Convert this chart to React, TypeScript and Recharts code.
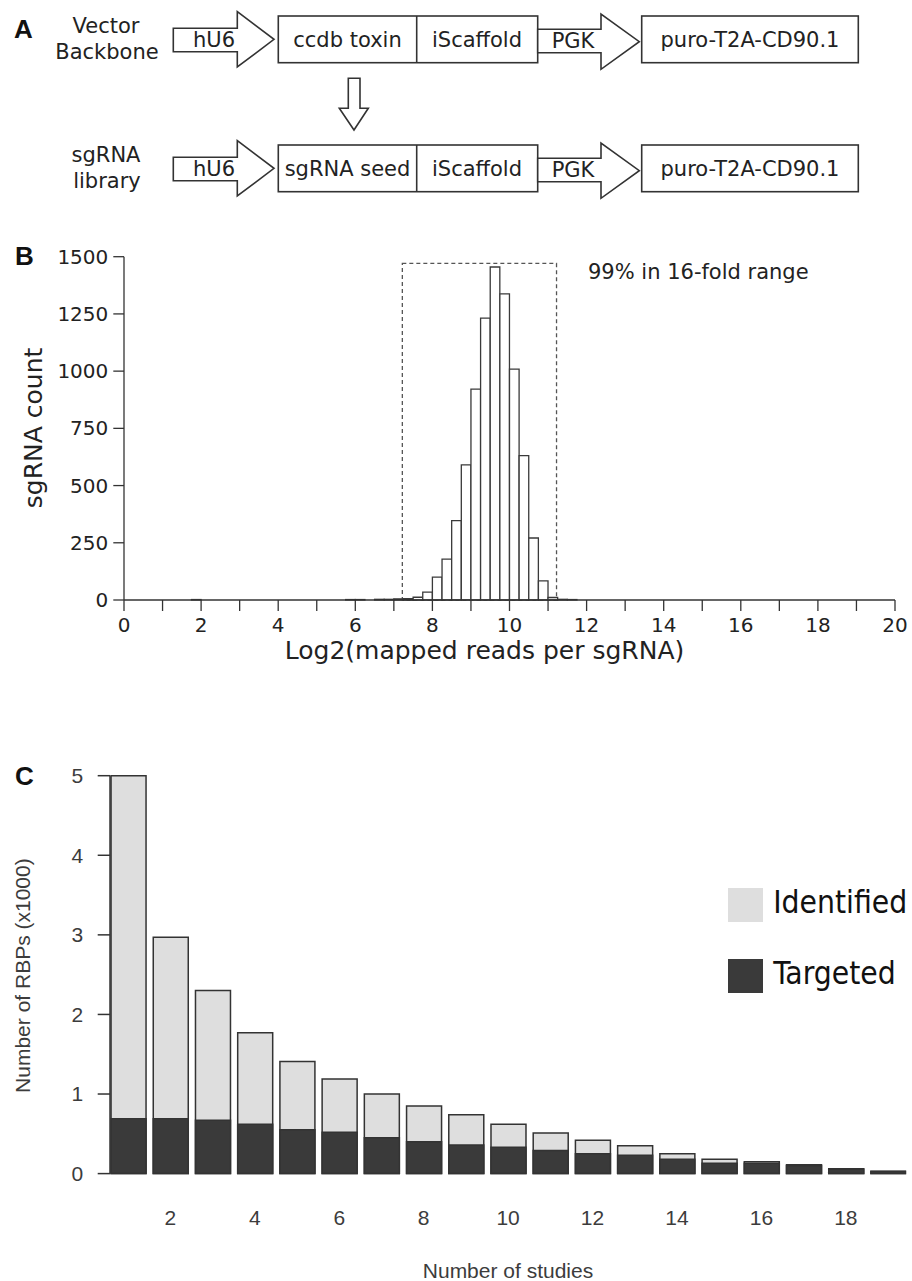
import React from "react";
import { Bar, ComposedChart, Label, Legend, ReferenceArea, XAxis, YAxis } from "recharts";

// ---- panel B: histogram of log2 reads per sgRNA (bins of 0.25) ----
const HIST_BIN_START = [
  1.75, 5.75, 6.0, 6.5, 6.75, 7.0, 7.25, 7.5, 7.75, 8.0, 8.25, 8.5, 8.75, 9.0, 9.25, 9.5,
  9.75, 10.0, 10.25, 10.5, 10.75, 11.0, 11.25, 11.5,
];
const HIST_COUNT = [
  2, 2, 2, 3, 3, 5, 6, 12, 34, 100, 179, 347, 590, 921, 1232, 1455, 1338, 1009, 631, 271, 84,
  11, 3, 2,
];
const HIST_BIN_WIDTH = 0.25;
const HIST_X_TICKS = [0, 1, 2, 3, 4, 5, 6, 7, 8, 9, 10, 11, 12, 13, 14, 15, 16, 17, 18, 19, 20];
const HIST_Y_TICKS = [0, 250, 500, 750, 1000, 1250, 1500];
const RANGE_X1 = 7.22;
const RANGE_X2 = 11.22;
const RANGE_TOP = 1471;

// ---- panel C: RBPs per number of studies (x1000) ----
const STUDIES = [1, 2, 3, 4, 5, 6, 7, 8, 9, 10, 11, 12, 13, 14, 15, 16, 17, 18, 19];
const IDENTIFIED = [
  5.0, 2.97, 2.3, 1.77, 1.41, 1.19, 1.0, 0.85, 0.74, 0.62, 0.51, 0.42, 0.35, 0.25, 0.18, 0.15,
  0.11, 0.06, 0.03,
];
const TARGETED = [
  0.69, 0.69, 0.67, 0.62, 0.55, 0.52, 0.45, 0.4, 0.36, 0.33, 0.29, 0.25, 0.23, 0.18, 0.13, 0.13,
  0.1, 0.055, 0.025,
];
const RBP_X_TICKS = [2, 4, 6, 8, 10, 12, 14, 16, 18];
const RBP_Y_TICKS = [0, 1, 2, 3, 4, 5];

const INK = "#333";
const LIGHT = "#dedede";
const DARK = "#3a3a3a";
const VERDANA = "'DejaVu Sans', Verdana, sans-serif";
const ARIAL = "'Liberation Sans', Arial, sans-serif";

const histData = HIST_BIN_START.map((start, i) => ({
  mid: start + HIST_BIN_WIDTH / 2,
  count: HIST_COUNT[i],
}));

const rbpData = STUDIES.map((n, i) => ({
  n,
  identified: IDENTIFIED[i],
  targeted: TARGETED[i],
}));

const LEGEND_COLORS: Record<string, string> = { identified: LIGHT, targeted: DARK };

function VectorDiagram() {
  const arrow = (xs: number, xh: number, xt: number, st: number, sb: number, ht: number, hb: number) =>
    `${xs},${st} ${xh},${st} ${xh},${ht} ${xt},${(ht + hb) / 2} ${xh},${hb} ${xh},${sb} ${xs},${sb}`;

  const row = (dy: number, insert: string, labelTop: string, labelBottom: string) => (
    <g key={insert}>
      <text x={106} y={33 + dy} textAnchor="middle" fontSize={21} fontFamily={VERDANA} fill="#222">
        {labelTop}
      </text>
      <text x={107} y={58.5 + dy} textAnchor="middle" fontSize={21} fontFamily={VERDANA} fill="#222">
        {labelBottom}
      </text>
      <polygon points={arrow(173.3, 237.3, 274, 28.3 + dy, 51.7 + dy, 11.7 + dy, 67 + dy)} fill="#fff" stroke={INK} strokeWidth={1.6} />
      <rect x={278.3} y={16 + dy} width={259.4} height={46.7} fill="#fff" stroke={INK} strokeWidth={1.6} />
      <line x1={416.7} y1={16 + dy} x2={416.7} y2={62.7 + dy} stroke={INK} strokeWidth={1.6} />
      <polygon points={arrow(537.7, 601, 639.3, 29.3 + dy, 52.7 + dy, 14 + dy, 69.3 + dy)} fill="#fff" stroke={INK} strokeWidth={1.6} />
      <rect x={641.7} y={16 + dy} width={216.6} height={46.7} fill="#fff" stroke={INK} strokeWidth={1.6} />
      <g fontSize={21} fontFamily={VERDANA} fill="#222" textAnchor="middle" dominantBaseline="central">
        <text x={214} y={39.5 + dy}>hU6</text>
        <text x={347.5} y={39.5 + dy}>{insert}</text>
        <text x={477} y={39.5 + dy}>iScaffold</text>
        <text x={573} y={40.5 + dy}>PGK</text>
        <text x={750} y={39.5 + dy}>puro-T2A-CD90.1</text>
      </g>
    </g>
  );

  return (
    <svg width={912} height={210} style={{ position: "absolute", left: 0, top: 0 }}>
      {row(0, "ccdb toxin", "Vector", "Backbone")}
      <polygon
        points="348.3,78.3 360,78.3 360,108.3 368.3,108.3 354,130 339.3,108.3 348.3,108.3"
        fill="#fff"
        stroke={INK}
        strokeWidth={1.6}
      />
      {row(129, "sgRNA seed", "sgRNA", "library")}
    </svg>
  );
}

function ReadsHistogram() {
  return (
    <div style={{ position: "absolute", left: 0, top: 230 }}>
      <ComposedChart width={912} height={445} data={histData} margin={{ top: 26.7, right: 17, bottom: 0, left: 0 }}>
        <XAxis
          dataKey="mid"
          type="number"
          domain={[0, 20]}
          ticks={HIST_X_TICKS}
          allowDataOverflow
          height={75}
          stroke={INK}
          strokeWidth={1.3}
          tickSize={11}
          tickMargin={7}
          tick={{ fill: "#222", fontSize: 20, fontFamily: VERDANA }}
          tickFormatter={(v: number) => (v % 2 === 0 ? String(v) : "")}
          interval={0}
        >
          <Label
            content={() => (
              <text x={484.5} y={429} textAnchor="middle" fontSize={25} fontFamily={VERDANA} fill="#222">
                Log2(mapped reads per sgRNA)
              </text>
            )}
          />
        </XAxis>
        <YAxis
          type="number"
          domain={[0, 1500]}
          ticks={HIST_Y_TICKS}
          width={124}
          stroke={INK}
          strokeWidth={1.3}
          tickSize={10.7}
          tickMargin={5}
          tick={{ fill: "#222", fontSize: 20, fontFamily: VERDANA }}
          interval={0}
        >
          <Label
            content={() => (
              <text
                x={33}
                y={198}
                transform="rotate(-90 33 198)"
                textAnchor="middle"
                dominantBaseline="central"
                fontSize={25}
                fontFamily={VERDANA}
                fill="#222"
              >
                sgRNA count
              </text>
            )}
          />
        </YAxis>
        <ReferenceArea
          x1={RANGE_X1}
          x2={RANGE_X2}
          y1={0}
          y2={RANGE_TOP}
          fill="none"
          stroke="#555"
          strokeWidth={1.3}
          strokeDasharray="4 3"
          ifOverflow="visible"
        />
        <Bar dataKey="count" barSize={9.6} fill="#fff" stroke="#3a3a3a" strokeWidth={1.3} isAnimationActive={false} />
      </ComposedChart>
      <div
        style={{
          position: "absolute",
          left: 588,
          top: 30,
          fontFamily: VERDANA,
          fontSize: 21,
          lineHeight: "24px",
          color: "#222",
          whiteSpace: "nowrap",
        }}
      >
        99% in 16-fold range
      </div>
    </div>
  );
}

function RbpLegend({ payload }: any) {
  return (
    <div>
      {(payload ?? []).map((p: any, i: number) => (
        <div key={p.value} style={{ display: "flex", alignItems: "center", height: 34, marginTop: i ? 36.8 : 0 }}>
          <span style={{ display: "inline-block", width: 35, height: 34, background: LEGEND_COLORS[p.dataKey] }} />
          <span
            style={{
              marginLeft: 10.5,
              fontFamily: "'DejaVu Sans Condensed', 'DejaVu Sans', sans-serif",
              fontStretch: "condensed",
              fontSize: 31.5,
              lineHeight: "34px",
              color: "#111",
              position: "relative",
              top: -3,
              whiteSpace: "nowrap",
            }}
          >
            {p.value}
          </span>
        </div>
      ))}
    </div>
  );
}

function RbpBars() {
  return (
    <div style={{ position: "absolute", left: 0, top: 700 }}>
      <ComposedChart
        width={912}
        height={581}
        data={rbpData}
        barGap={-35}
        margin={{ top: 75.7, right: 5.8, bottom: 7.4, left: 0 }}
      >
        <XAxis
          dataKey="n"
          type="number"
          domain={[0.57, 19.43]}
          ticks={RBP_X_TICKS}
          allowDataOverflow
          height={100}
          axisLine={false}
          tickLine={false}
          tickSize={6}
          tickMargin={30}
          tick={{ fill: "#3c3c3c", fontSize: 21, fontFamily: ARIAL }}
          interval={0}
        >
          <Label
            content={() => (
              <text x={508} y={578} textAnchor="middle" fontSize={21} fontFamily={ARIAL} fill="#3c3c3c">
                Number of studies
              </text>
            )}
          />
        </XAxis>
        <YAxis
          type="number"
          domain={[0, 5]}
          ticks={RBP_Y_TICKS}
          width={110}
          stroke={INK}
          strokeWidth={1.5}
          tickSize={12.3}
          tickMargin={14.4}
          tick={{ fill: "#3c3c3c", fontSize: 21, fontFamily: ARIAL }}
          interval={0}
        >
          <Label
            content={() => (
              <text
                x={22.5}
                y={275.6}
                transform="rotate(-90 22.5 275.6)"
                textAnchor="middle"
                dominantBaseline="central"
                fontSize={21}
                fontFamily={ARIAL}
                fill="#3c3c3c"
              >
                Number of RBPs (x1000)
              </text>
            )}
          />
        </YAxis>
        <Legend
          layout="vertical"
          align="center"
          verticalAlign="middle"
          content={<RbpLegend />}
          wrapperStyle={{ left: 727.7, top: 187.8, width: 184, height: 110 }}
        />
        <Bar dataKey="identified" name="Identified" barSize={35} fill={LIGHT} stroke={INK} strokeWidth={1.5} isAnimationActive={false} />
        <Bar dataKey="targeted" name="Targeted" barSize={35} fill={DARK} stroke={INK} strokeWidth={1.5} isAnimationActive={false} />
      </ComposedChart>
    </div>
  );
}

export default function App() {
  return (
    <div style={{ position: "absolute", left: 0, top: 0, width: 912, height: 1281, background: "#fff", overflow: "hidden" }}>
      <VectorDiagram />
      <ReadsHistogram />
      <RbpBars />
      <svg width={912} height={1281} style={{ position: "absolute", left: 0, top: 0, pointerEvents: "none" }}>
        <g fontFamily={ARIAL} fontWeight="bold" fontSize={26} fill="#111">
          <text x={14} y={38}>A</text>
          <text x={15} y={265}>B</text>
          <text x={15} y={785}>C</text>
        </g>
      </svg>
    </div>
  );
}
